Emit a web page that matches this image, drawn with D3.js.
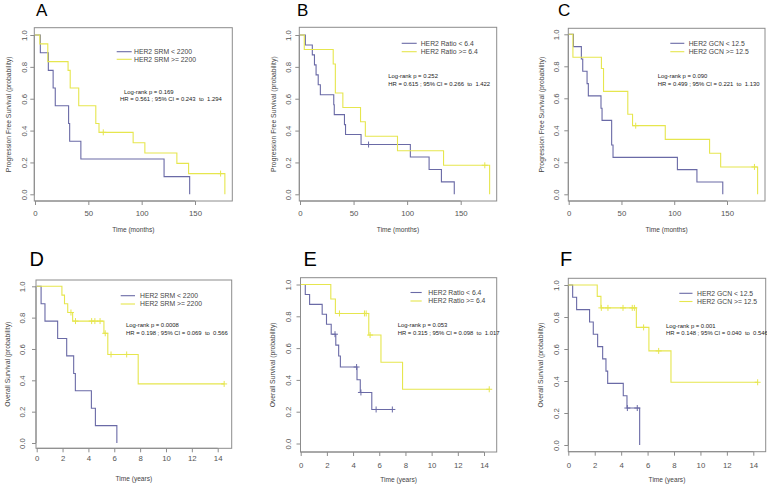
<!DOCTYPE html>
<html>
<head>
<meta charset="utf-8">
<script src="https://cdn.jsdelivr.net/npm/d3@7"></script>
<style>
  html, body { margin: 0; padding: 0; background: #fff; }
  svg { display: block; font-family: "Liberation Sans", Arial, sans-serif; }
</style>
</head>
<body>
<svg id="chart" width="767" height="490"></svg>
<script>
// ---------- tick labels ----------
const pfsTicks = [0, 50, 100, 150];
const osTicks = [0, 2, 4, 6, 8, 10, 12, 14];
const yTicks = [0, 0.2, 0.4, 0.6, 0.8, 1.0];
const yTickLabels = ["0.0", "0.2", "0.4", "0.6", "0.8", "1.0"];

// ---------- Panel A: PFS by HER2 SRM (months) ----------
const aLowTimes = [5, 12.5, 17, 19, 31.5, 32.5, 43, 121, 145];
const aLowSurv = [0.889, 0.778, 0.667, 0.556, 0.444, 0.333, 0.222, 0.111, 0];
const aLowCensor = [];
const aLowEnd = 145;
const aHighTimes = [4.5, 12, 31, 33, 41, 57, 60, 92, 103, 133, 144, 178];
const aHighSurv = [0.944, 0.833, 0.778, 0.667, 0.556, 0.444, 0.389, 0.324, 0.259, 0.194, 0.13, 0];
const aHighCensor = [64, 174];
const aHighEnd = 178;

// ---------- Panel B: PFS by HER2 Ratio (months) ----------
const bLowTimes = [5, 11.5, 13.5, 15, 17, 19, 31.5, 32, 41.5, 42.5, 57, 103, 120.5, 132, 144];
const bLowSurv = [0.9375, 0.875, 0.8125, 0.75, 0.6875, 0.625, 0.5625, 0.5, 0.4375, 0.375, 0.3125, 0.234, 0.156, 0.078, 0];
const bLowCensor = [64];
const bLowEnd = 144;
const bHighTimes = [4, 31, 33, 40, 56.5, 61, 91, 134, 177];
const bHighSurv = [0.909, 0.818, 0.636, 0.545, 0.455, 0.364, 0.273, 0.182, 0];
const bHighCensor = [172.5];
const bHighEnd = 177;

// ---------- Panel C: PFS by HER2 GCN (months) ----------
const cLowTimes = [4.5, 12, 13.3, 17.4, 18.6, 30.6, 31.6, 40.7, 42, 103, 121.5, 146];
const cLowSurv = [0.923, 0.846, 0.769, 0.692, 0.615, 0.538, 0.462, 0.308, 0.231, 0.154, 0.077, 0];
const cLowCensor = [];
const cLowEnd = 146;
const cHighTimes = [4, 31, 33, 56, 60.5, 91.5, 133.5, 144, 179];
const cHighSurv = [0.857, 0.786, 0.643, 0.5, 0.429, 0.343, 0.257, 0.171, 0];
const cHighCensor = [63.5, 176];
const cHighEnd = 179;

// ---------- Panel D: OS by HER2 SRM (years) ----------
const dLowTimes = [0.34, 0.64, 1.62, 2.32, 2.86, 2.99, 4.23, 4.54, 6.2];
const dLowSurv = [0.889, 0.778, 0.667, 0.556, 0.444, 0.333, 0.222, 0.111, 0];
const dLowCensor = [];
const dLowEnd = 6.2;
const dHighTimes = [1.95, 2.15, 2.4, 2.78, 5.2, 5.5, 7.85];
const dHighSurv = [0.944, 0.889, 0.833, 0.778, 0.70, 0.565, 0.377];
const dHighCensor = [2.65, 3.0, 4.25, 4.5, 4.9, 5.3, 5.75, 6.96, 14.5];
const dHighEnd = 14.5;

// ---------- Panel E: OS by HER2 Ratio (years) ----------
const eLowTimes = [0.35, 0.68, 1.64, 1.97, 2.33, 2.68, 2.9, 3.03, 4.3, 4.55, 5.43];
const eLowSurv = [0.9375, 0.875, 0.8125, 0.75, 0.6875, 0.619, 0.55, 0.481, 0.401, 0.321, 0.214];
const eLowCensor = [2.62, 4.27, 4.6, 5.76, 7.0];
const eLowEnd = 7.0;
const eHighTimes = [2.3, 2.65, 5.2, 6.13, 7.78];
const eHighSurv = [0.909, 0.818, 0.682, 0.511, 0.341];
const eHighCensor = [2.96, 4.87, 5.0, 5.3, 14.4];
const eHighEnd = 14.4;

// ---------- Panel F: OS by HER2 GCN (years) ----------
const fLowTimes = [0.33, 0.63, 1.61, 1.89, 2.22, 2.6, 2.85, 2.98, 4.16, 4.44, 5.4];
const fLowSurv = [0.923, 0.846, 0.769, 0.692, 0.615, 0.538, 0.462, 0.385, 0.308, 0.231, 0];
const fLowCensor = [4.47, 5.22];
const fLowEnd = 5.4;
const fHighTimes = [2.19, 2.47, 5.15, 6.1, 7.77];
const fHighSurv = [0.929, 0.857, 0.735, 0.588, 0.392];
const fHighCensor = [2.5, 3.0, 4.14, 4.84, 5.0, 5.7, 6.84, 14.33];
const fHighEnd = 14.33;

// ---------- text ----------
const panelLetters = ["A", "B", "C", "D", "E", "F"];
const legendLow = ["HER2 SRM < 2200", "HER2 Ratio < 6.4", "HER2 GCN < 12.5", "HER2 SRM < 2200", "HER2 Ratio < 6.4", "HER2 GCN < 12.5"];
const legendHigh = ["HER2 SRM >= 2200", "HER2 Ratio >= 6.4", "HER2 GCN >= 12.5", "HER2 SRM >= 2200", "HER2 Ratio >= 6.4", "HER2 GCN >= 12.5"];
const logRankText = ["Log-rank p = 0.169", "Log-rank p = 0.252", "Log-rank p = 0.090", "Log-rank p = 0.0008", "Log-rank p = 0.053", "Log-rank p = 0.001"];
const hrText = [
  "HR = 0.561 ; 95% CI = 0.243  to  1.294",
  "HR = 0.615 ; 95% CI = 0.266  to  1.422",
  "HR = 0.499 ; 95% CI = 0.221  to  1.130",
  "HR = 0.198 ; 95% CI = 0.069  to  0.566",
  "HR = 0.315 ; 95% CI = 0.098  to  1.017",
  "HR = 0.148 ; 95% CI = 0.040  to  0.546"
];
const yLabels = ["Progression Free Survival (probability)", "Overall Survival (probability)"];
const xLabels = ["Time (months)", "Time (years)"];

const curves = [
  [{t: aLowTimes, s: aLowSurv, c: aLowCensor, end: aLowEnd}, {t: aHighTimes, s: aHighSurv, c: aHighCensor, end: aHighEnd}],
  [{t: bLowTimes, s: bLowSurv, c: bLowCensor, end: bLowEnd}, {t: bHighTimes, s: bHighSurv, c: bHighCensor, end: bHighEnd}],
  [{t: cLowTimes, s: cLowSurv, c: cLowCensor, end: cLowEnd}, {t: cHighTimes, s: cHighSurv, c: cHighCensor, end: cHighEnd}],
  [{t: dLowTimes, s: dLowSurv, c: dLowCensor, end: dLowEnd}, {t: dHighTimes, s: dHighSurv, c: dHighCensor, end: dHighEnd}],
  [{t: eLowTimes, s: eLowSurv, c: eLowCensor, end: eLowEnd}, {t: eHighTimes, s: eHighSurv, c: eHighCensor, end: eHighEnd}],
  [{t: fLowTimes, s: fLowSurv, c: fLowCensor, end: fLowEnd}, {t: fHighTimes, s: fHighSurv, c: fHighCensor, end: fHighEnd}]
];

// ---------- layout (pixels) ----------
const layout = [
  {box: [34.3, 232.3, 27.7, 201], xd: [0, 150], xr: [35, 195], yr: [194.3, 35], os: false,
   letter: [36, 15.5, 17], leg: [116.7, 131.7, 51.7, 59.3, 134], stat: [124, 93.7, 120, 101.3],
   ylabX: 8.3, ytickX: 24, xtickY: 213.3, xlabY: 230},
  {box: [299.3, 496.7, 27.3, 201], xd: [0, 150], xr: [300, 460.7], yr: [194.3, 35], os: false,
   letter: [297, 15.5, 17], leg: [401.7, 416.7, 43.3, 51.7, 420.7], stat: [388.3, 77.7, 388.3, 86],
   ylabX: 273.3, ytickX: 288.3, xtickY: 213.3, xlabY: 230},
  {box: [568.3, 765, 28.3, 201], xd: [0, 150], xr: [568.7, 727], yr: [194.3, 34.3], os: false,
   letter: [558, 15.5, 17], leg: [670.3, 684.3, 43.3, 51.7, 688.7], stat: [657.7, 77.7, 657.7, 86],
   ylabX: 541, ytickX: 556, xtickY: 213.3, xlabY: 230},
  {box: [36, 231.7, 280, 448.3], xd: [0, 14], xr: [36.7, 217.7], yr: [443, 286.3], os: true,
   letter: [29.5, 265.5, 20], leg: [120.7, 135, 295.7, 304, 140], stat: [126, 327, 126, 335.3],
   ylabX: 7.3, ytickX: 22.7, xtickY: 458.3, xlabY: 478.3},
  {box: [300.5, 496.7, 277.7, 452], xd: [0, 14], xr: [300.7, 484], yr: [443.5, 284.5], os: true,
   letter: [303.5, 265.5, 20], leg: [410.5, 421.7, 292.5, 301, 428.3], stat: [397.7, 327, 397.7, 335.3],
   ylabX: 272.7, ytickX: 288.3, xtickY: 465, xlabY: 480},
  {box: [568.3, 765.7, 278.3, 451.7], xd: [0, 14], xr: [568.3, 753.3], yr: [445, 285], os: true,
   letter: [560, 265.5, 20], leg: [679.3, 692.5, 293.3, 301.5, 697], stat: [666, 327.7, 666, 335.3],
   ylabX: 540.3, ytickX: 556, xtickY: 465, xlabY: 480}
];

const BLUE = "#6a6aa6";
const YELLOW = "#e6e64e";
const BOX = "#8c8c8c";
const TXT = "#444";

const svg = d3.select("#chart");

function survAt(curve, time) {
  let v = 1;
  curve.t.forEach((t, i) => { if (t <= time) v = curve.s[i]; });
  return v;
}

layout.forEach((L, pi) => {
  const g = svg.append("g");
  const x = d3.scaleLinear().domain(L.xd).range(L.xr);
  const y = d3.scaleLinear().domain([0, 1]).range(L.yr);
  const [bx0, bx1, by0, by1] = L.box;

  // panel letter
  g.append("text").attr("x", L.letter[0]).attr("y", L.letter[1])
    .attr("font-size", L.letter[2]).attr("fill", "#000").text(panelLetters[pi]);

  // box
  g.append("rect").attr("x", bx0).attr("y", by0).attr("width", bx1 - bx0).attr("height", by1 - by0)
    .attr("fill", "none").attr("stroke", BOX).attr("stroke-width", 1);

  // x axis
  const xt = L.os ? osTicks : pfsTicks;
  const xAxis = d3.axisBottom(x).tickValues(xt).tickSize(4).tickFormat(d3.format("d"));
  const xg = g.append("g").attr("transform", `translate(0,${by1})`).call(xAxis);
  xg.select(".domain").attr("d", `M${x(xt[0])},0H${x(xt[xt.length - 1])}`).attr("stroke", BOX);
  xg.selectAll(".tick line").attr("stroke", BOX);
  xg.selectAll(".tick text").attr("fill", "#555").attr("font-size", 7.8)
    .attr("font-family", "Liberation Sans, Arial, sans-serif")
    .attr("y", L.xtickY - by1).attr("dy", "0.35em");

  // y axis
  const yAxis = d3.axisLeft(y).tickValues(yTicks).tickSize(4).tickFormat((d, i) => yTickLabels[i]);
  const yg = g.append("g").attr("transform", `translate(${bx0},0)`).call(yAxis);
  yg.select(".domain").attr("d", `M0,${y(0)}V${y(1)}`).attr("stroke", BOX);
  yg.selectAll(".tick line").attr("stroke", BOX);
  yg.selectAll(".tick text").attr("fill", "#555").attr("font-size", 7.8)
    .attr("font-family", "Liberation Sans, Arial, sans-serif")
    .attr("x", 0).attr("dy", null)
    .attr("text-anchor", "middle").attr("dominant-baseline", "central")
    .attr("transform", `translate(${L.ytickX - bx0},0) rotate(-90)`);

  // axis titles
  g.append("text").attr("x", (bx0 + bx1) / 2).attr("y", L.xlabY).attr("dy", "0.35em")
    .attr("text-anchor", "middle").attr("font-size", 6.6).attr("fill", TXT)
    .text(L.os ? xLabels[1] : xLabels[0]);
  g.append("text").attr("transform", `translate(${L.ylabX},${(by0 + by1) / 2}) rotate(-90)`)
    .attr("text-anchor", "middle").attr("dominant-baseline", "central")
    .attr("font-size", 6.8).attr("fill", TXT)
    .text(L.os ? yLabels[1] : yLabels[0]);

  // curves
  const line = d3.line().x(d => x(d[0])).y(d => y(d[1])).curve(d3.curveStepAfter);
  const colors = [BLUE, YELLOW];
  curves[pi].forEach((cv, ci) => {
    const pts = [[0, 1]];
    cv.t.forEach((t, i) => pts.push([t, cv.s[i]]));
    if (cv.end > cv.t[cv.t.length - 1]) pts.push([cv.end, cv.s[cv.s.length - 1]]);
    g.append("path").attr("d", line(pts)).attr("fill", "none")
      .attr("stroke", colors[ci]).attr("stroke-width", 1.1);
    cv.c.forEach(ct => {
      const cx = x(ct), cy = y(survAt(cv, ct));
      g.append("path").attr("d", `M${cx - 3},${cy}H${cx + 3}M${cx},${cy - 3}V${cy + 3}`)
        .attr("stroke", colors[ci]).attr("stroke-width", 1).attr("fill", "none");
    });
  });

  // legend
  const [lx0, lx1, ly0, ly1, ltx] = L.leg;
  g.append("line").attr("x1", lx0).attr("x2", lx1).attr("y1", ly0).attr("y2", ly0)
    .attr("stroke", BLUE).attr("stroke-width", 1.1);
  g.append("line").attr("x1", lx0).attr("x2", lx1).attr("y1", ly1).attr("y2", ly1)
    .attr("stroke", YELLOW).attr("stroke-width", 1.1);
  g.append("text").attr("x", ltx).attr("y", ly0).attr("dy", "0.35em")
    .attr("font-size", 6.8).attr("fill", TXT).text(legendLow[pi]);
  g.append("text").attr("x", ltx).attr("y", ly1).attr("dy", "0.35em")
    .attr("font-size", 6.8).attr("fill", TXT).text(legendHigh[pi]);

  // statistics
  g.append("text").attr("x", L.stat[0]).attr("y", L.stat[1])
    .attr("font-size", 5.9).attr("fill", "#222").attr("xml:space", "preserve")
    .style("white-space", "pre").text(logRankText[pi]);
  g.append("text").attr("x", L.stat[2]).attr("y", L.stat[3])
    .attr("font-size", 5.9).attr("fill", "#222").attr("xml:space", "preserve")
    .style("white-space", "pre").text(hrText[pi]);
});
</script>
</body>
</html>
